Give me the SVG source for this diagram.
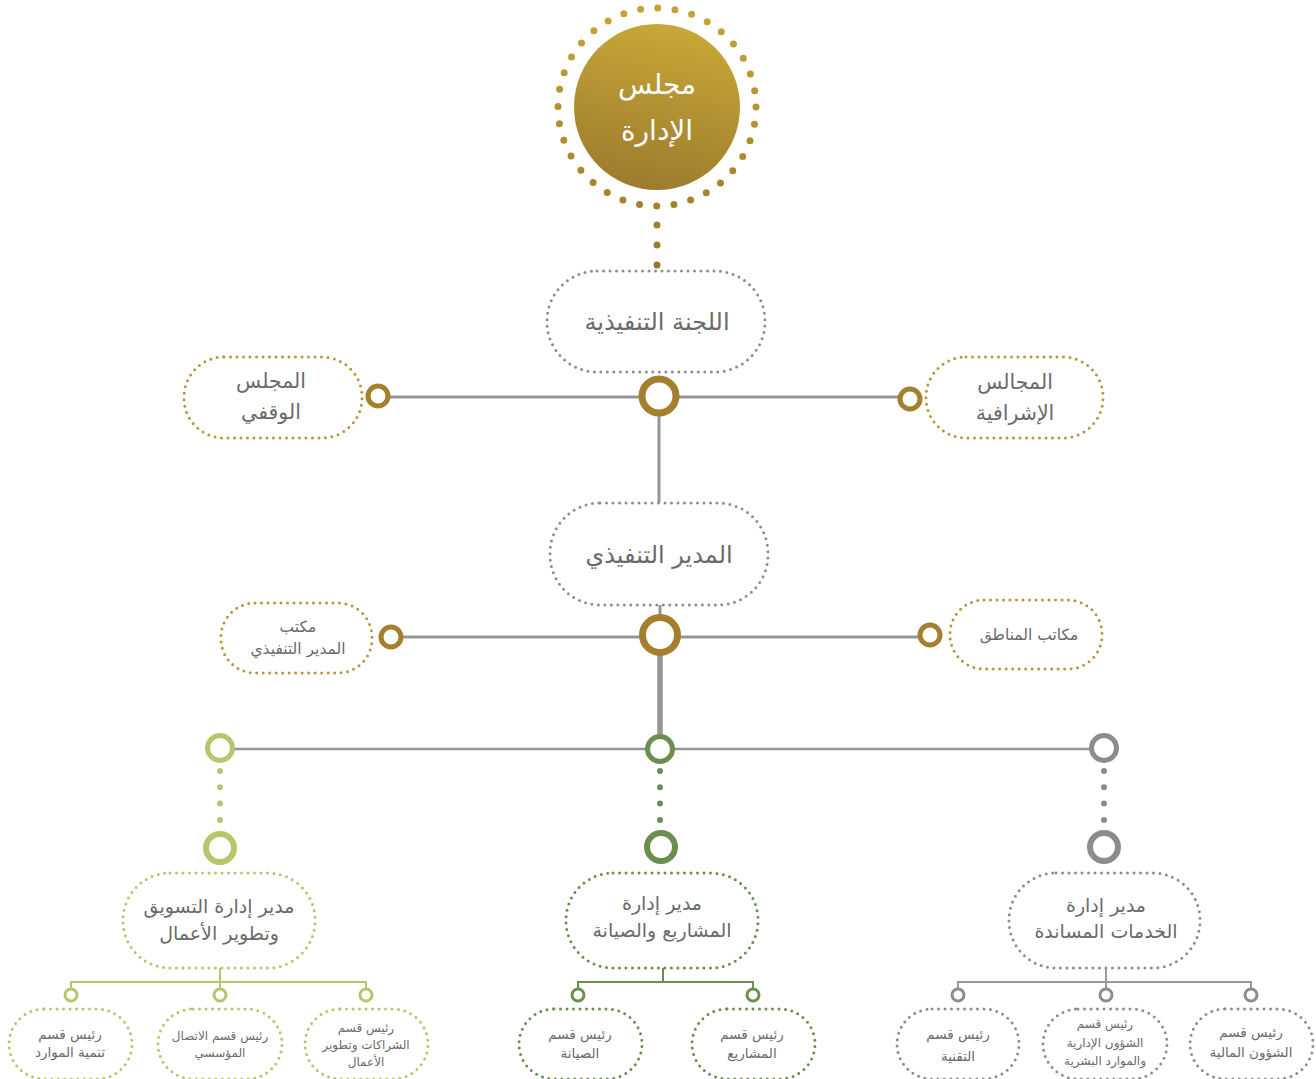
<svg xmlns="http://www.w3.org/2000/svg" width="1316" height="1079" viewBox="0 0 1316 1079">
<defs>
<linearGradient id="gold" x1="0.6" y1="0" x2="0.4" y2="1">
<stop offset="0" stop-color="#c8a837"/>
<stop offset="1" stop-color="#9c7b2d"/>
</linearGradient>
<linearGradient id="goldU" gradientUnits="userSpaceOnUse" x1="657" y1="5" x2="657" y2="270">
<stop offset="0" stop-color="#c6a537"/>
<stop offset="1" stop-color="#98772b"/>
</linearGradient>
<style>
text{font-family:"DejaVu Sans","Noto Sans",sans-serif;fill:#6a6a6a;text-anchor:middle;direction:rtl}
.dot{fill:none;stroke-width:3;stroke-linecap:round;stroke-dasharray:0 6.5}
.dgold{stroke:#b8963a}
.dgrey{stroke:#8e8e8e}
.dlg{stroke:#b7c56c}
.dgr{stroke:#6b8f4f}
.dgy{stroke:#8e8e8e}
.line{stroke:#959595;fill:none}
.ring{fill:#fff}
.t22{font-size:24px}
.t20{font-size:20.5px}
.t19{font-size:19px}
.t16{font-size:15.5px}
.t14{font-size:13.5px}
.t12{font-size:12px}
</style>
</defs>
<rect width="1316" height="1079" fill="#ffffff"/>

<g id="connectors">
<line x1="657" y1="225" x2="657" y2="266" stroke="url(#goldU)" stroke-width="7" stroke-linecap="round" stroke-dasharray="0 20"/>
<line class="line" x1="378" y1="397" x2="910" y2="397" stroke-width="3"/>
<line class="line" x1="659" y1="413" x2="659" y2="502" stroke-width="3"/>
<line class="line" x1="660" y1="605" x2="660" y2="620" stroke-width="3"/>
<line class="line" x1="391" y1="637" x2="930" y2="637" stroke-width="3"/>
<line class="line" x1="660" y1="652" x2="660" y2="738" stroke-width="5.5"/>
<line class="line" x1="220" y1="749" x2="1104" y2="749" stroke-width="2.5"/>
<line x1="220" y1="771" x2="220" y2="820" stroke="#b7c56c" stroke-width="6" stroke-linecap="round" stroke-dasharray="0 16.3"/>
<line x1="660" y1="771" x2="660" y2="820" stroke="#6b8f4f" stroke-width="6" stroke-linecap="round" stroke-dasharray="0 16.3"/>
<line x1="1104" y1="771" x2="1104" y2="820" stroke="#8c8c8c" stroke-width="6" stroke-linecap="round" stroke-dasharray="0 16.3"/>
<path d="M220 968V982M71 988V982H366V988M220 982V988" stroke="#b7c56c" stroke-width="2" fill="none"/>
<path d="M663 968V982M578 988V982H753V988" stroke="#6b8f4f" stroke-width="2" fill="none"/>
<path d="M1106 968V982M958 988V982H1251V988M1106 982V988" stroke="#999" stroke-width="2" fill="none"/>
<circle class="ring" cx="659" cy="396" r="17" stroke="#a47f2e" stroke-width="7"/>
<circle class="ring" cx="378" cy="396" r="10" stroke="#a47f2e" stroke-width="5"/>
<circle class="ring" cx="910" cy="399" r="10" stroke="#a47f2e" stroke-width="5"/>
<circle class="ring" cx="660" cy="635" r="17.5" stroke="#a47f2e" stroke-width="7"/>
<circle class="ring" cx="391" cy="637" r="10" stroke="#a47f2e" stroke-width="5"/>
<circle class="ring" cx="930" cy="635" r="10" stroke="#a47f2e" stroke-width="5"/>
<circle class="ring" cx="220" cy="748" r="12.5" stroke="#b7c56c" stroke-width="5"/>
<circle class="ring" cx="660" cy="749" r="12.5" stroke="#6b8f4f" stroke-width="5"/>
<circle class="ring" cx="1104" cy="748" r="12.5" stroke="#8c8c8c" stroke-width="5"/>
<circle class="ring" cx="220" cy="848" r="14" stroke="#b7c56c" stroke-width="6"/>
<circle class="ring" cx="661" cy="847" r="14" stroke="#6b8f4f" stroke-width="6"/>
<circle class="ring" cx="1104" cy="847" r="14" stroke="#8c8c8c" stroke-width="6"/>
<circle class="ring" cx="71" cy="995" r="6" stroke="#b7c56c" stroke-width="3"/>
<circle class="ring" cx="220" cy="995" r="6" stroke="#b7c56c" stroke-width="3"/>
<circle class="ring" cx="366" cy="995" r="6" stroke="#b7c56c" stroke-width="3"/>
<circle class="ring" cx="578" cy="995" r="6" stroke="#6b8f4f" stroke-width="3"/>
<circle class="ring" cx="753" cy="995" r="6" stroke="#6b8f4f" stroke-width="3"/>
<circle class="ring" cx="958" cy="995" r="6" stroke="#8c8c8c" stroke-width="3"/>
<circle class="ring" cx="1106" cy="995" r="6" stroke="#8c8c8c" stroke-width="3"/>
<circle class="ring" cx="1251" cy="995" r="6" stroke="#8c8c8c" stroke-width="3"/>
</g>

<g id="board">
<circle cx="657" cy="107" r="99" fill="none" stroke="url(#goldU)" stroke-width="7" stroke-linecap="round" stroke-dasharray="0 17.279"/>
<circle cx="657" cy="107" r="83" fill="url(#gold)"/>
<text x="657" y="94" font-size="28" style="fill:#fff">مجلس</text>
<text x="657" y="140" font-size="28" style="fill:#fff">الإدارة</text>
</g>

<g id="exec-committee">
<rect class="dot dgrey" x="547" y="271" width="218" height="101" rx="50"/>
<text class="t22" x="657" y="330">اللجنة التنفيذية</text>
</g>

<g id="waqf-council">
<rect class="dot dgold" x="184" y="357" width="178" height="81" rx="40"/>
<text class="t20" x="271" y="388">المجلس</text>
<text class="t20" x="271" y="419">الوقفي</text>
</g>

<g id="supervisory-councils">
<rect class="dot dgold" x="926" y="357" width="177" height="81" rx="40"/>
<text class="t20" x="1015" y="389">المجالس</text>
<text class="t20" x="1015" y="420">الإشرافية</text>
</g>

<g id="ceo">
<rect class="dot dgrey" x="550" y="503" width="218" height="102" rx="50"/>
<text class="t22" x="659" y="563">المدير التنفيذي</text>
</g>

<g id="ceo-office">
<rect class="dot dgold" x="221" y="603" width="151" height="70" rx="34"/>
<text class="t16" x="298" y="632">مكتب</text>
<text class="t16" x="298" y="654">المدير التنفيذي</text>
</g>

<g id="regional-offices">
<rect class="dot dgold" x="950" y="600" width="152" height="69" rx="34"/>
<text class="t16" x="1029" y="640">مكاتب المناطق</text>
</g>

<g id="marketing-dir">
<rect class="dot dlg" x="123" y="873" width="192" height="95" rx="47"/>
<text class="t19" x="219" y="913">مدير إدارة التسويق</text>
<text class="t19" x="219" y="940">وتطوير الأعمال</text>
</g>

<g id="projects-dir">
<rect class="dot dgr" x="566" y="873" width="192" height="95" rx="47"/>
<text class="t19" x="662" y="910">مدير إدارة</text>
<text class="t19" x="662" y="937">المشاريع والصيانة</text>
</g>

<g id="support-dir">
<rect class="dot dgy" x="1009" y="873" width="191" height="95" rx="47"/>
<text class="t19" x="1106" y="912">مدير إدارة</text>
<text class="t19" x="1106" y="938">الخدمات المساندة</text>
</g>

<g id="resources-dev">
<rect class="dot dlg" x="9" y="1009" width="123" height="70" rx="35"/>
<text class="t14" x="70" y="1039">رئيس قسم</text>
<text class="t14" x="70" y="1057">تنمية الموارد</text>
</g>

<g id="corp-comm">
<rect class="dot dlg" x="158" y="1009" width="124" height="70" rx="35"/>
<text class="t12" x="220" y="1040">رئيس قسم الاتصال</text>
<text class="t12" x="220" y="1057">المؤسسي</text>
</g>

<g id="partnerships">
<rect class="dot dlg" x="305" y="1009" width="123" height="70" rx="35"/>
<text class="t12" x="366" y="1032">رئيس قسم</text>
<text class="t12" x="366" y="1049">الشراكات وتطوير</text>
<text class="t12" x="366" y="1066">الأعمال</text>
</g>

<g id="maintenance">
<rect class="dot dgr" x="519" y="1009" width="123" height="70" rx="35"/>
<text class="t14" x="580" y="1039">رئيس قسم</text>
<text class="t14" x="580" y="1058">الصيانة</text>
</g>

<g id="projects">
<rect class="dot dgr" x="692" y="1009" width="123" height="70" rx="35"/>
<text class="t14" x="752" y="1039">رئيس قسم</text>
<text class="t14" x="752" y="1058">المشاريع</text>
</g>

<g id="tech">
<rect class="dot dgy" x="897" y="1009" width="122" height="70" rx="35"/>
<text class="t14" x="958" y="1039">رئيس قسم</text>
<text class="t14" x="958" y="1061">التقنية</text>
</g>

<g id="admin-hr">
<rect class="dot dgy" x="1043" y="1009" width="124" height="70" rx="35"/>
<text class="t12" x="1105" y="1028">رئيس قسم</text>
<text class="t12" x="1105" y="1047">الشؤون الإدارية</text>
<text class="t12" x="1105" y="1065">والموارد البشرية</text>
</g>

<g id="finance">
<rect class="dot dgy" x="1190" y="1009" width="123" height="70" rx="35"/>
<text class="t14" x="1251" y="1037">رئيس قسم</text>
<text class="t14" x="1251" y="1057">الشؤون المالية</text>
</g>
</svg>
